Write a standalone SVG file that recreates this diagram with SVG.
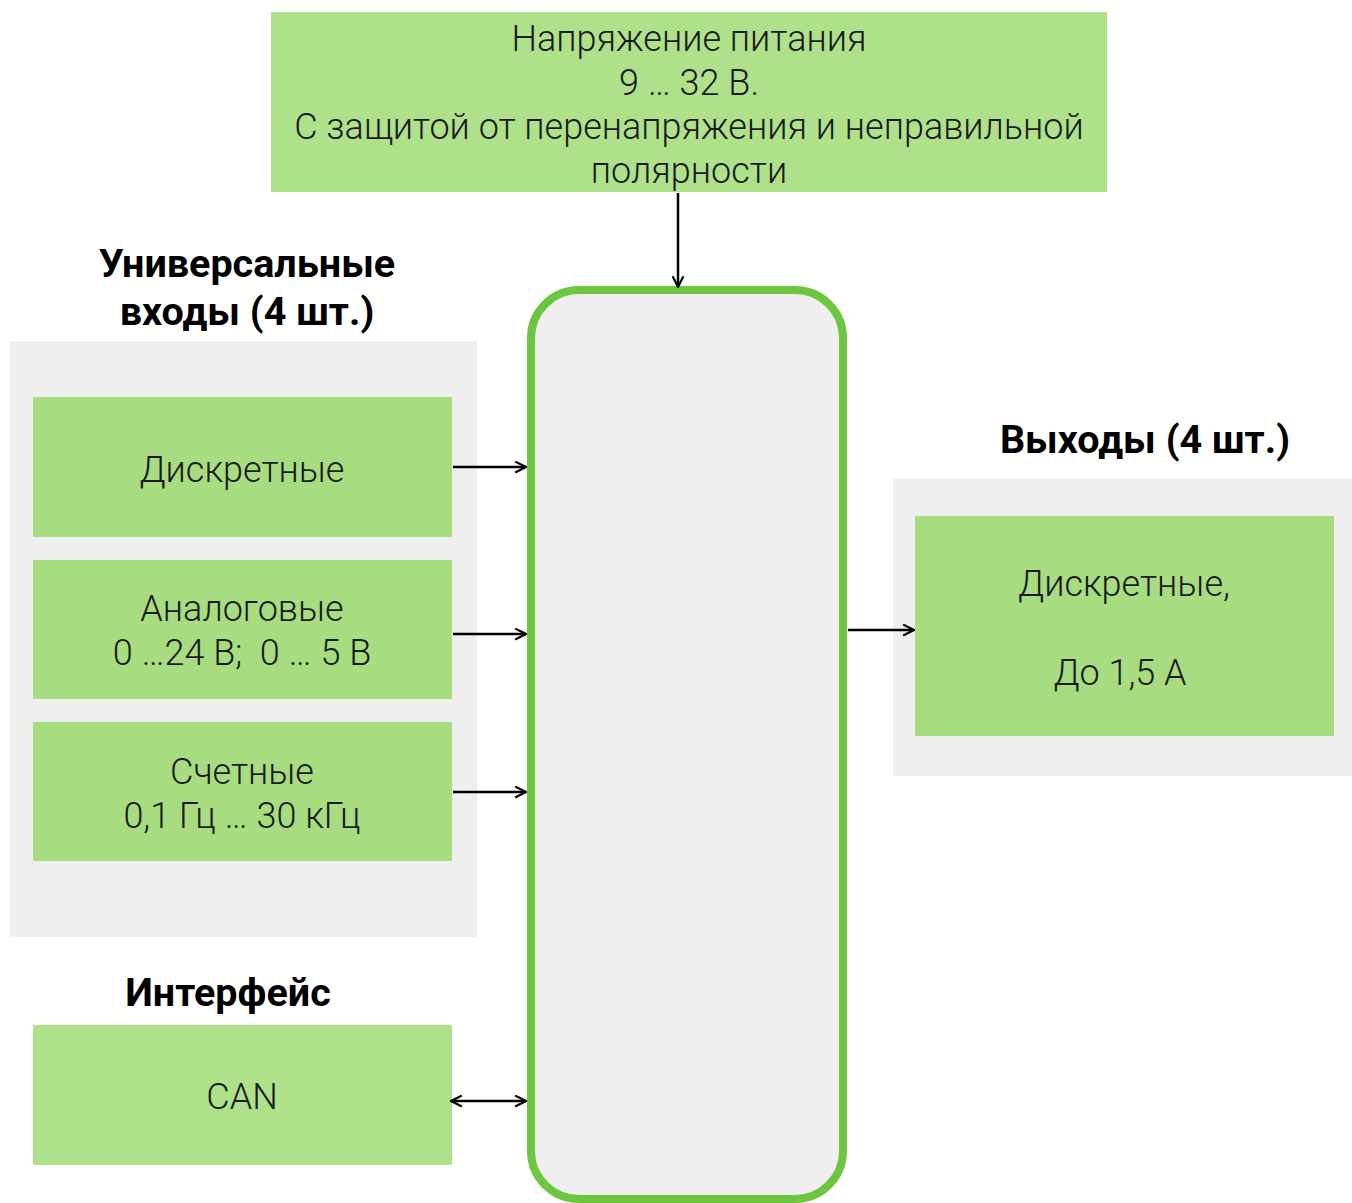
<svg xmlns="http://www.w3.org/2000/svg" width="1352" height="1203" viewBox="0 0 1352 1203">
<style>
.panel{fill:#efefef}
.g1{fill:#aee18a}
.g2{fill:#a7dc80}
.lbl{font-family:Roboto,"Liberation Sans",sans-serif;font-weight:300;font-size:36px;fill:#1a1a1a;text-anchor:middle}
.hd{font-family:Roboto,"Liberation Sans",sans-serif;font-weight:700;font-size:39.5px;fill:#000;text-anchor:middle}
.conn line{stroke:#000;stroke-width:2.5;fill:none}
</style>
<defs>
<marker id="ah" viewBox="0 0 12 12" refX="11" refY="6" markerWidth="13" markerHeight="13" markerUnits="userSpaceOnUse" orient="auto-start-reverse">
<path d="M1,1 L11,6 L1,11" fill="none" stroke="#000" stroke-width="2"/>
</marker>
</defs>
<rect width="1352" height="1203" fill="#fff"/>
<g id="power">
<rect class="g1" x="271" y="12" width="836" height="180"/>
<text class="lbl" x="689" y="51">Напряжение питания</text>
<text class="lbl" x="689" y="95">9 … 32 В.</text>
<text class="lbl" x="689" y="139">С защитой от перенапряжения и неправильной</text>
<text class="lbl" x="689" y="183">полярности</text>
</g>
<g id="inputs-panel">
<rect class="panel" x="10" y="341" width="467" height="596"/>
<text class="hd" x="247" y="277">Универсальные</text>
<text class="hd" x="247" y="325">входы (4 шт.)</text>
</g>
<g id="in-discrete">
<rect class="g2" x="33" y="397" width="419" height="140"/>
<text class="lbl" x="242" y="482">Дискретные</text>
</g>
<g id="in-analog">
<rect class="g2" x="33" y="560" width="419" height="139"/>
<text class="lbl" x="242" y="621">Аналоговые</text>
<text class="lbl" x="242" y="665">0 …24 В;&#160; 0 … 5 В</text>
</g>
<g id="in-counter">
<rect class="g2" x="33" y="722" width="419" height="139"/>
<text class="lbl" x="242" y="784">Счетные</text>
<text class="lbl" x="242" y="828">0,1 Гц … 30 кГц</text>
</g>
<g id="interface">
<text class="hd" x="228" y="1006">Интерфейс</text>
<rect class="g1" x="33" y="1025" width="419" height="140"/>
<text class="lbl" x="242" y="1109">CAN</text>
</g>
<g id="controller">
<rect x="531" y="290" width="312" height="909" rx="48" ry="48" fill="#efefef" stroke="#6cc63f" stroke-width="8"/>
</g>
<g id="outputs">
<text class="hd" x="1145" y="453">Выходы (4 шт.)</text>
<rect class="panel" x="893" y="478" width="459" height="298"/>
<rect class="g2" x="915" y="516" width="419" height="220"/>
<text class="lbl" x="1124" y="596">Дискретные,</text>
<text class="lbl" x="1120" y="685">До 1,5 А</text>
</g>
<g class="conn" id="connectors">
<line x1="678" y1="193" x2="678" y2="287" marker-end="url(#ah)"/>
<line x1="453" y1="467" x2="526" y2="467" marker-end="url(#ah)"/>
<line x1="453" y1="634" x2="526" y2="634" marker-end="url(#ah)"/>
<line x1="453" y1="792" x2="526" y2="792" marker-end="url(#ah)"/>
<line x1="451" y1="1101" x2="526" y2="1101" marker-start="url(#ah)" marker-end="url(#ah)"/>
<line x1="848" y1="630" x2="914" y2="630" marker-end="url(#ah)"/>
</g>
</svg>
